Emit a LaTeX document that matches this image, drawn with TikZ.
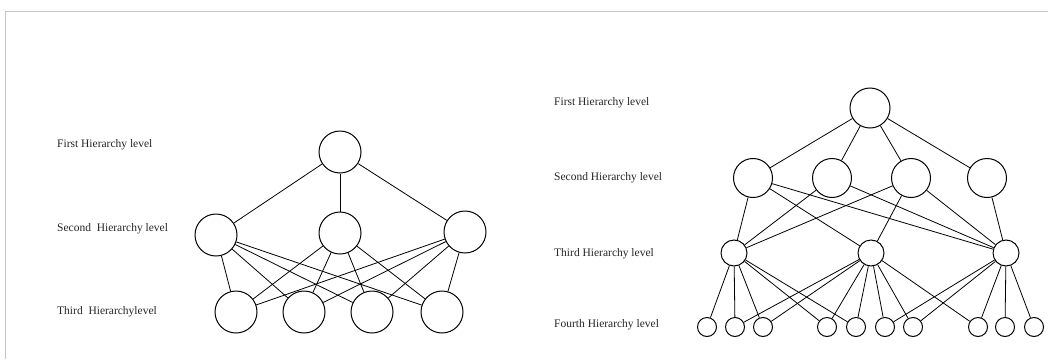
\documentclass[tikz,border=0pt]{standalone}
\usepackage{fontspec}
\setmainfont{Liberation Serif}
\begin{document}
\begin{tikzpicture}[x=1pt,y=-1pt,
  lvl/.style={circle,draw=black,line width=1pt,inner sep=0pt,minimum size=#1},
  edge/.style={draw=black,line width=0.8pt},
  lab/.style={anchor=west,inner sep=0pt,font=\fontsize{11.5}{13}\selectfont,text=black!85}]
\useasboundingbox (0,0) rectangle (1048,359);
\fill[white] (0,0) rectangle (1048,359);
\coordinate (fa) at (5,359);
\coordinate (fb) at (5,11);
\coordinate (fc) at (1048,11);
\draw[gray!45,line width=1pt] (fa) -- (fb) -- (fc);
% left labels
\node[lab] (l1) at (57,145) {First Hierarchy level};
\node[lab] (l2) at (57,229) {Second\ \ Hierarchy level};
\node[lab] (l3) at (57,312) {Third\ \ Hierarchylevel};
% right labels
\node[lab] (r1) at (554,103) {First Hierarchy level};
\node[lab] (r2) at (554,178) {Second Hierarchy level};
\node[lab] (r3) at (554,254) {Third Hierarchy level};
\node[lab] (r4) at (554,325) {Fourth Hierarchy level};
% left tree
\node[lvl=42pt] (T) at (340,152) {};
\node[lvl=42pt] (S1) at (216,235) {};
\node[lvl=42pt] (S2) at (340,233) {};
\node[lvl=42pt] (S3) at (465,232) {};
\node[lvl=42pt] (B1) at (236,312) {};
\node[lvl=42pt] (B2) at (304,312) {};
\node[lvl=42pt] (B3) at (372,312) {};
\node[lvl=42pt] (B4) at (442,312) {};
\foreach \s in {S1,S2,S3} {\draw[edge] (T) -- (\s);}
\foreach \s in {S1,S2,S3} {\foreach \b in {B1,B2,B3,B4} {\draw[edge] (\s) -- (\b);}}
% right tree
\node[lvl=40pt] (RT) at (870,108) {};
\node[lvl=39pt] (Ra) at (753,178) {};
\node[lvl=39pt] (Rb) at (832,178) {};
\node[lvl=39pt] (Rc) at (911,178) {};
\node[lvl=39pt] (Rd) at (987,178) {};
\node[lvl=26pt] (Qa) at (734,253) {};
\node[lvl=26pt] (Qb) at (871,253) {};
\node[lvl=26pt] (Qc) at (1006,253) {};
\foreach \n/\x in {1/707,2/735,3/763,4/827,5/856,6/885,7/913,8/978,9/1005,10/1034}
  {\node[lvl=19pt] (P\n) at (\x,327) {};}
\foreach \s in {Ra,Rb,Rc,Rd} {\draw[edge] (RT) -- (\s);}
\foreach \a/\b in {Ra/Qa,Ra/Qb,Ra/Qc,Rb/Qa,Rb/Qc,Rc/Qa,Rc/Qb,Rc/Qc,Rd/Qc} {\draw[edge] (\a) -- (\b);}
\foreach \a/\b in {Qa/P1,Qa/P2,Qa/P3,Qa/P4,Qa/P5,
                   Qb/P2,Qb/P3,Qb/P4,Qb/P5,Qb/P6,Qb/P7,Qb/P8,
                   Qc/P6,Qc/P7,Qc/P8,Qc/P9,Qc/P10} {\draw[edge] (\a) -- (\b);}
\end{tikzpicture}
\end{document}
